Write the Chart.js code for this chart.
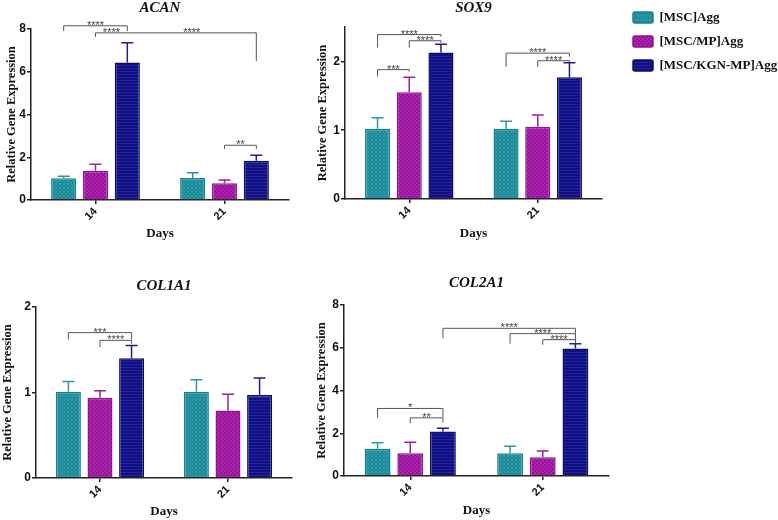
<!DOCTYPE html>
<html>
<head>
<meta charset="utf-8">
<script src="https://cdn.jsdelivr.net/npm/chart.js@4.4.1/dist/chart.umd.min.js"></script>
<style>
  body { margin:0; background:#fff; width:778px; height:520px; position:relative; overflow:hidden; }
  canvas { position:absolute; }
</style>
</head>
<body>
<canvas id="acan" width="300" height="250" style="left:0;top:0"></canvas>
<canvas id="sox9" width="320" height="250" style="left:300px;top:0"></canvas>
<canvas id="col1a1" width="300" height="260" style="left:0;top:260px"></canvas>
<canvas id="col2a1" width="320" height="260" style="left:300px;top:260px"></canvas>
<canvas id="legend" width="156" height="80" style="left:622px;top:0"></canvas>
<script>
const days = ['14', '21'];
const groups = ['[MSC]Agg', '[MSC/MP]Agg', '[MSC/KGN-MP]Agg'];

// mean per group (rows) and day (cols), SD the same way
const acanMean = [[1.02, 1.03], [1.37, 0.78], [6.43, 1.84]];
const acanSD   = [[0.09, 0.25], [0.30, 0.16], [0.93, 0.25]];
const sox9Mean = [[1.02, 1.02], [1.55, 1.05], [2.13, 1.77]];
const sox9SD   = [[0.16, 0.11], [0.22, 0.17], [0.12, 0.21]];
const col1a1Mean = [[1.01, 1.01], [0.94, 0.79], [1.40, 0.97]];
const col1a1SD   = [[0.12, 0.14], [0.08, 0.19], [0.15, 0.20]];
const col2a1Mean = [[1.28, 1.06], [1.06, 0.88], [2.08, 5.97]];
const col2a1SD   = [[0.27, 0.33], [0.52, 0.29], [0.15, 0.22]];

// significance: fromGroup, fromDay, toGroup, toDay, line level, left end, right end, label
const acanSig = [
  [0, 0, 2, 0, 8.15, 7.90, 7.90, '****'],
  [1, 0, 2, 0, 7.82, 7.63, 7.82, '****'],
  [2, 0, 2, 1, 7.82, 7.82, 6.50, '****'],
  [1, 1, 2, 1, 2.56, 2.39, 2.39, '**']
];
const sox9Sig = [
  [0, 0, 2, 0, 2.39, 2.20, 2.36, '****'],
  [1, 0, 2, 0, 2.30, 2.20, 2.27, '****'],
  [0, 0, 1, 0, 1.88, 1.78, 1.85, '***'],
  [0, 1, 2, 1, 2.12, 1.92, 2.07, '****'],
  [1, 1, 2, 1, 2.01, 1.92, 1.99, '****']
];
const col1a1Sig = [
  [0, 0, 2, 0, 1.70, 1.62, 1.62, '***'],
  [1, 0, 2, 0, 1.61, 1.53, 1.57, '****']
];
const col2a1Sig = [
  [0, 0, 2, 0, 3.16, 2.73, 2.73, '*'],
  [1, 0, 2, 0, 2.72, 2.47, 2.50, '**'],
  [2, 0, 2, 1, 6.91, 6.45, 6.66, '****'],
  [0, 1, 2, 1, 6.66, 6.19, 6.38, '****'],
  [1, 1, 2, 1, 6.38, 6.14, 6.22, '****']
];

const serif = '"Liberation Serif", "Times New Roman", serif';
const sans = '"Liberation Sans", Arial, sans-serif';

function makePattern(size, paint) {
  const c = document.createElement('canvas');
  c.width = c.height = size;
  const g = c.getContext('2d');
  paint(g);
  return g.createPattern(c, 'repeat');
}

const fills = [
  makePattern(4, g => {
    g.fillStyle = '#1c8a98'; g.fillRect(0, 0, 4, 4);
    g.fillStyle = '#2f9ba8';
    [[0,0],[1,1],[2,2],[3,3],[3,0],[0,3]].forEach(p => g.fillRect(p[0], p[1], 1, 1));
  }),
  makePattern(4, g => {
    g.fillStyle = '#b022b0'; g.fillRect(0, 0, 4, 4);
    g.fillStyle = '#931595'; g.fillRect(0, 0, 2, 2); g.fillRect(2, 2, 2, 2);
  }),
  makePattern(3, g => {
    g.fillStyle = '#10107f'; g.fillRect(0, 0, 3, 3);
    g.fillStyle = '#2323a0'; g.fillRect(0, 2, 3, 1);
  })
];
const edges = ['#17808e', '#8e138e', '#0b0b6e'];
const whiskerColors = ['#2b98a4', '#a0209f', '#1f1f8f'];

const errorBars = {
  id: 'errorBars',
  afterDatasetsDraw(chart) {
    const ctx = chart.ctx, y = chart.scales.y;
    ctx.save();
    ctx.lineWidth = 1.5;
    chart.data.datasets.forEach((ds, d) => {
      ctx.strokeStyle = ds.errorColor;
      chart.getDatasetMeta(d).data.forEach((bar, i) => {
        const top = y.getPixelForValue(ds.data[i] + ds.sd[i]);
        ctx.beginPath();
        ctx.moveTo(bar.x, bar.y); ctx.lineTo(bar.x, top);
        ctx.moveTo(bar.x - 6, top); ctx.lineTo(bar.x + 6, top);
        ctx.stroke();
      });
    });
    ctx.restore();
  }
};

function bracketPlugin(list) {
  return {
    id: 'brackets',
    afterDatasetsDraw(chart) {
      const ctx = chart.ctx, y = chart.scales.y;
      const xOf = (d, i) => chart.getDatasetMeta(d).data[i].x;
      ctx.save();
      ctx.strokeStyle = '#555'; ctx.lineWidth = 1; ctx.fillStyle = '#444';
      ctx.font = '11px ' + sans; ctx.textAlign = 'center'; ctx.textBaseline = 'alphabetic';
      list.forEach(b => {
        const x1 = xOf(b[0], b[1]), x2 = xOf(b[2], b[3]);
        const yy = y.getPixelForValue(b[4]);
        ctx.beginPath();
        ctx.moveTo(x1, y.getPixelForValue(b[5]));
        ctx.lineTo(x1, yy); ctx.lineTo(x2, yy);
        ctx.lineTo(x2, y.getPixelForValue(b[6]));
        ctx.stroke();
        ctx.fillText(b[7], (x1 + x2) / 2, yy + 3);
      });
      ctx.restore();
    }
  };
}

function datasetsFor(means, sds) {
  return groups.map((g, i) => ({
    label: g,
    data: means ? means[i] : [],
    sd: sds ? sds[i] : [],
    backgroundColor: fills[i],
    borderColor: edges[i],
    borderWidth: 1.5,
    errorColor: whiskerColors[i],
    categoryPercentage: 0.74,
    barPercentage: 0.79
  }));
}

function panel(id, title, means, sds, yMax, yStep, sig, box) {
  new Chart(document.getElementById(id), {
    type: 'bar',
    data: { labels: days, datasets: datasetsFor(means, sds) },
    options: {
      responsive: false,
      animation: false,
      layout: { padding: { left: 0, right: box.padR, top: 0, bottom: 0 } },
      plugins: {
        legend: { display: false },
        tooltip: { enabled: false },
        title: {
          display: true, text: title, fullSize: false, color: '#111',
          font: { family: serif, size: 15, weight: 'bold', style: 'italic', lineHeight: 1 },
          padding: { top: box.tTop, bottom: box.tBot }
        }
      },
      scales: {
        x: {
          grid: { drawOnChartArea: false, offset: false, color: '#222', tickLength: 4, lineWidth: 1.5 },
          border: { color: '#222', width: 1.5 },
          ticks: { color: '#111', font: { family: sans, size: 11, weight: 'bold' }, minRotation: 45, maxRotation: 45, padding: 1 },
          title: { display: true, text: 'Days', color: '#111', font: { family: serif, size: 13, weight: 'bold' }, padding: { top: 0, bottom: box.xTitlePad } },
          afterFit: s => { s.height = box.xH; }
        },
        y: {
          min: 0, max: yMax,
          grid: { drawOnChartArea: false, color: '#222', tickLength: 4, lineWidth: 1.5 },
          border: { color: '#222', width: 1.5 },
          ticks: { stepSize: yStep, includeBounds: false, color: '#111', font: { family: sans, size: 12, weight: 'bold' }, padding: 1 },
          title: { display: true, text: 'Relative Gene Expression', color: '#111', font: { family: serif, size: 12.5, weight: 'bold' }, padding: { top: box.yTitlePad, bottom: 0 } },
          afterFit: s => { s.width = box.yW; }
        }
      }
    },
    plugins: [errorBars, bracketPlugin(sig)]
  });
}

panel('acan', 'ACAN', acanMean, acanSD, 8, 2, acanSig,
  { yW: 31, xH: 50, padR: 11, tTop: 1, tBot: 13, yTitlePad: 4, xTitlePad: 9 });
panel('sox9', 'SOX9', sox9Mean, sox9SD, 2.5, 1, sox9Sig,
  { yW: 45, xH: 51, padR: 18, tTop: 1, tBot: 11, yTitlePad: 15, xTitlePad: 9 });
panel('col1a1', 'COL1A1', col1a1Mean, col1a1SD, 2, 1, col1a1Sig,
  { yW: 36, xH: 42, padR: 8, tTop: 19, tBot: 13, yTitlePad: 0, xTitlePad: 1 });
panel('col2a1', 'COL2A1', col2a1Mean, col2a1SD, 8, 2, col2a1Sig,
  { yW: 44, xH: 44, padR: 11, tTop: 16, tBot: 14, yTitlePad: 14, xTitlePad: 2 });

// shared legend
new Chart(document.getElementById('legend'), {
  type: 'bar',
  data: { labels: [], datasets: datasetsFor(null, null) },
  options: {
    responsive: false,
    animation: false,
    scales: { x: { display: false }, y: { display: false } },
    plugins: {
      tooltip: { enabled: false },
      legend: {
        position: 'top', align: 'start', maxHeight: 80,
        labels: { boxWidth: 20, boxHeight: 11, useBorderRadius: true, borderRadius: 2, padding: 11, color: '#111', font: { family: serif, size: 13, weight: 'bold' } }
      }
    }
  }
});
</script>
</body>
</html>
